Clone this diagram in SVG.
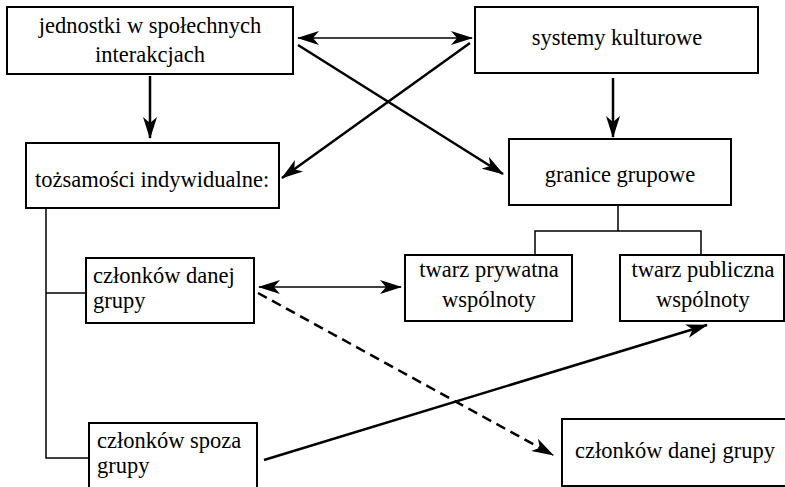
<svg xmlns="http://www.w3.org/2000/svg" width="785" height="487" viewBox="0 0 785 487">
<defs>
<marker id="ah" markerUnits="userSpaceOnUse" markerWidth="22" markerHeight="14" viewBox="0 0 22 14" refX="21" refY="7" orient="auto-start-reverse">
<path d="M0,0 L22,7 L0,14 L6,7 z" fill="#000"/>
</marker>
</defs>
<style>
.box{fill:#fff;stroke:#000;stroke-width:2}
.ln{fill:none;stroke:#000;stroke-width:1.5}
.ar{fill:none;stroke:#000;stroke-width:2.5}
.th{fill:none;stroke:#000;stroke-width:1.6}
.ds{fill:none;stroke:#000;stroke-width:2.5;stroke-dasharray:10 6}
</style>
<rect width="785" height="487" fill="#fff"/>
<g id="connectors">
<line class="th" x1="298" y1="38" x2="472" y2="38" marker-start="url(#ah)" marker-end="url(#ah)"/>
<line class="ar" x1="150" y1="76" x2="150" y2="138" marker-end="url(#ah)"/>
<line class="ar" x1="613" y1="78" x2="613" y2="137" marker-end="url(#ah)"/>
<line class="ar" x1="298" y1="45" x2="503" y2="174" marker-end="url(#ah)"/>
<line class="ar" x1="470" y1="43" x2="282" y2="178" marker-end="url(#ah)"/>
<path class="ln" d="M618,205 V231 M535,255 V231 H701 V255"/>
<path class="ln" d="M46,208 V458 H89 M46,293 H86"/>
<line class="th" x1="259" y1="287" x2="401" y2="287" marker-start="url(#ah)" marker-end="url(#ah)"/>
<line class="ds" x1="258" y1="293" x2="553" y2="455" marker-end="url(#ah)"/>
<line class="ar" x1="264" y1="460" x2="707" y2="325" marker-end="url(#ah)"/>
</g>
<g id="n1"><rect class="box" x="7" y="7" width="286" height="67"/><text style="font-family:'Liberation Serif','Times New Roman',serif;font-size:22.5px" text-anchor="middle" x="150" y="33">jednostki w społechnych</text><text style="font-family:'Liberation Serif','Times New Roman',serif;font-size:22.5px" text-anchor="middle" x="150" y="62">interakcjach</text></g>
<g id="n2"><rect class="box" x="475" y="7" width="283" height="66"/><text style="font-family:'Liberation Serif','Times New Roman',serif;font-size:22.5px" text-anchor="middle" x="617" y="45">systemy kulturowe</text></g>
<g id="n3"><rect class="box" x="26" y="143" width="253" height="65"/><text style="font-family:'Liberation Serif','Times New Roman',serif;font-size:22.5px" x="35" y="187">tożsamości indywidualne:</text></g>
<g id="n4"><rect class="box" x="509" y="139" width="222" height="66"/><text style="font-family:'Liberation Serif','Times New Roman',serif;font-size:22.5px" text-anchor="middle" x="620" y="182">granice grupowe</text></g>
<g id="n5"><rect class="box" x="405" y="255" width="167" height="66"/><text style="font-family:'Liberation Serif','Times New Roman',serif;font-size:22.5px" text-anchor="middle" x="489" y="277">twarz prywatna</text><text style="font-family:'Liberation Serif','Times New Roman',serif;font-size:22.5px" text-anchor="middle" x="489" y="307">wspólnoty</text></g>
<g id="n6"><rect class="box" x="620" y="255" width="164" height="66"/><text style="font-family:'Liberation Serif','Times New Roman',serif;font-size:22.5px" text-anchor="middle" x="703" y="277">twarz publiczna</text><text style="font-family:'Liberation Serif','Times New Roman',serif;font-size:22.5px" text-anchor="middle" x="703" y="307">wspólnoty</text></g>
<g id="n7"><rect class="box" x="86" y="258" width="168" height="65"/><text style="font-family:'Liberation Serif','Times New Roman',serif;font-size:22.5px" x="93" y="283">członków danej</text><text style="font-family:'Liberation Serif','Times New Roman',serif;font-size:22.5px" x="93" y="308">grupy</text></g>
<g id="n8"><rect class="box" x="89" y="423" width="168" height="70"/><text style="font-family:'Liberation Serif','Times New Roman',serif;font-size:22.5px" x="97" y="448">członków spoza</text><text style="font-family:'Liberation Serif','Times New Roman',serif;font-size:22.5px" x="97" y="473">grupy</text></g>
<g id="n9"><rect class="box" x="562" y="419" width="230" height="67"/><text style="font-family:'Liberation Serif','Times New Roman',serif;font-size:22.5px" x="575" y="458">członków danej grupy</text></g>
</svg>
